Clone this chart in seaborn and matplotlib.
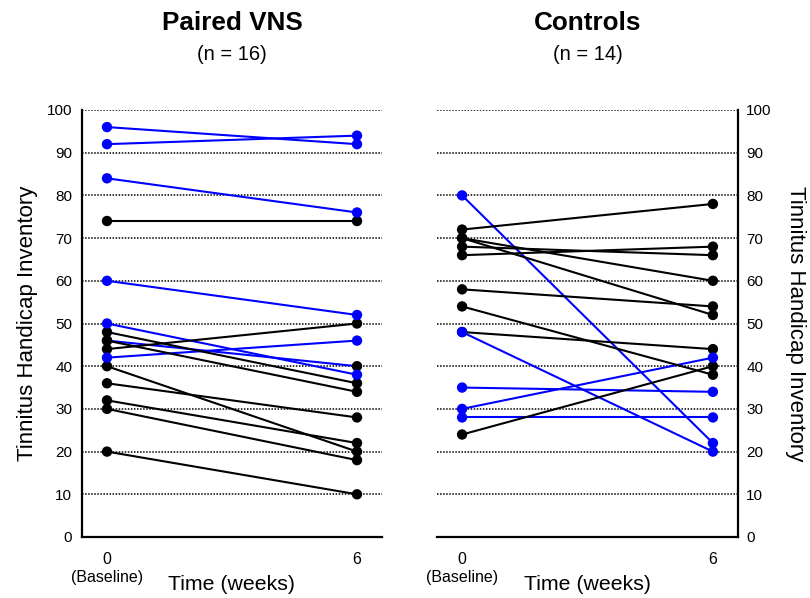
import pandas as pd
import numpy as np
import seaborn as sns
import matplotlib
matplotlib.use('Agg')
import matplotlib.pyplot as plt

# Tinnitus Handicap Inventory at baseline (week 0) and week 6, one entry per subject
vns_week0 = [96, 92, 84, 60, 50, 42, 46, 74, 48, 46, 44, 40, 36, 32, 30, 20]
vns_week6 = [92, 94, 76, 52, 38, 46, 40, 74, 36, 34, 50, 20, 28, 22, 18, 10]
vns_line = ['blue'] * 7 + ['black'] * 9
vns_dot0 = ['blue'] * 6 + ['black'] * 10
vns_dot6 = ['blue'] * 6 + ['black'] * 10

ctl_week0 = [80, 48, 35, 30, 28, 72, 70, 70, 68, 66, 58, 54, 48, 24]
ctl_week6 = [22, 20, 34, 42, 28, 78, 60, 52, 66, 68, 54, 38, 44, 40]
ctl_line = ['blue'] * 5 + ['black'] * 9
ctl_dot0 = ['blue'] * 5 + ['black'] * 9
ctl_dot6 = ['blue'] * 5 + ['black'] * 9

weeks = [0, 6]
week_labels = ['0\n(Baseline)', '6']
titles = ['Paired VNS', 'Controls']
subtitles = ['(n = 16)', '(n = 14)']

palette = {'blue': '#0000FF', 'black': '#000000'}


def long_form(w0, w6, line, dot0, dot6):
    rows = []
    for i in range(len(w0)):
        rows.append({'subject': i, 'week': weeks[0], 'score': w0[i], 'line': line[i], 'dot': dot0[i]})
        rows.append({'subject': i, 'week': weeks[1], 'score': w6[i], 'line': line[i], 'dot': dot6[i]})
    return pd.DataFrame(rows)


vns = long_form(vns_week0, vns_week6, vns_line, vns_dot0, vns_dot6)
ctl = long_form(ctl_week0, ctl_week6, ctl_line, ctl_dot0, ctl_dot6)

sns.set_style('white')
plt.rcParams['font.family'] = ['Liberation Sans', 'DejaVu Sans']
plt.rcParams['text.color'] = 'black'
plt.rcParams['axes.labelcolor'] = 'black'
plt.rcParams['xtick.color'] = 'black'
plt.rcParams['ytick.color'] = 'black'

fig = plt.figure(figsize=(8.1, 5.98), dpi=100)
ax1 = fig.add_axes([82 / 810, 61 / 598, 300 / 810, 427 / 598])
ax2 = fig.add_axes([437 / 810, 61 / 598, 301 / 810, 427 / 598])

for ax, df, title, sub in zip([ax1, ax2], [vns, ctl], titles, subtitles):
    sns.lineplot(data=df, x='week', y='score', units='subject', estimator=None,
                 hue='line', palette=palette, legend=False, lw=1.5, ax=ax)
    # black dots first so blue ones sit on top
    pts = df.sort_values('dot', kind='stable')
    sns.scatterplot(data=pts, x='week', y='score', hue='dot', palette=palette,
                    s=56, linewidth=0, legend=False, zorder=3, clip_on=False, ax=ax)
    ax.set_xlim(-0.6, 6.6)
    ax.set_ylim(0, 100)
    ax.set_yticks(np.arange(0, 101, 10))
    ax.set_xticks(weeks)
    ax.set_xticklabels(week_labels)
    ax.yaxis.grid(True, linestyle=(0, (1, 1)), color='black', lw=1.1)
    ax.xaxis.grid(False)
    ax.tick_params(axis='x', length=0, pad=11, labelsize=11.5)
    ax.tick_params(axis='y', length=0, labelsize=11)
    ax.set_xlabel('Time (weeks)', fontsize=15.3)
    ax.xaxis.set_label_coords(0.5, -0.088)
    ax.text(0.5, 1.204, title, transform=ax.transAxes, ha='center', va='center',
            fontsize=18.8, fontweight='bold')
    ax.text(0.5, 1.129, sub, transform=ax.transAxes, ha='center', va='center', fontsize=14.5)
    for s in ax.spines.values():
        s.set_linewidth(1.6)
        s.set_color('black')
    ax.spines['top'].set_visible(False)

ax1.spines['right'].set_visible(False)
ax1.tick_params(axis='y', pad=7)
ax1.set_ylabel('Tinnitus Handicap Inventory', fontsize=16)
ax1.yaxis.set_label_coords(-0.145, 0.5)

ax2.spines['left'].set_visible(False)
ax2.yaxis.tick_right()
ax2.tick_params(axis='y', pad=6)
ax2.yaxis.set_label_position('right')
ax2.set_ylabel('Tinnitus Handicap Inventory', fontsize=16, rotation=270, va='bottom')
ax2.yaxis.set_label_coords(1.155, 0.5)

fig.savefig('out.png', dpi=100)
